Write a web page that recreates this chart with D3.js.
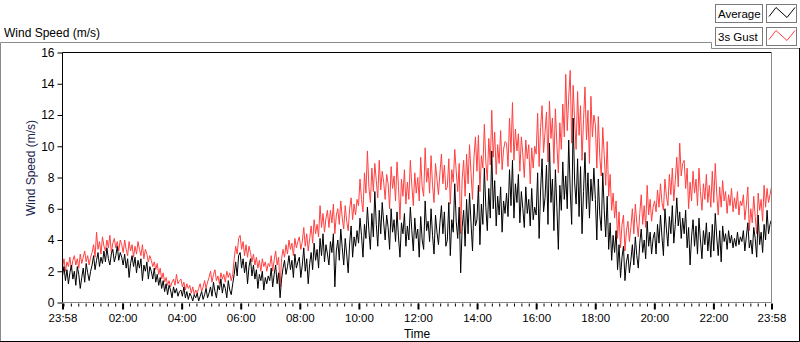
<!DOCTYPE html>
<html>
<head>
<meta charset="utf-8">
<script src="https://cdn.jsdelivr.net/npm/d3@7"></script>
<style>
  body { margin: 0; background: #fff; }
  svg { display: block; font-family: "Liberation Sans", Arial, sans-serif; }
</style>
</head>
<body>
<div class="container"></div>
<script>
// one value every 3 minutes, 20 per hour (one row per hour), from 23:58 to 23:58
const avgSpeed = [
  1.7, 2.3, 1.4, 2.1, 1.2, 1.9, 2.4, 1.5, 2.0, 1.1, 2.3, 1.8, 0.9, 1.6, 2.2, 1.3, 2.5, 1.9, 1.4, 2.0,
  2.4, 3.0, 2.1, 2.7, 3.2, 2.3, 2.9, 2.5, 3.3, 2.6, 3.5, 2.8, 2.4, 3.1, 3.4, 2.6, 3.0, 3.6, 2.7, 3.2,
  2.9, 2.4, 3.1, 2.2, 2.8, 1.6, 2.5, 3.0, 2.3, 2.9, 1.9, 2.7, 2.2, 2.8, 1.4, 2.4, 2.0, 2.6, 1.5, 2.3,
  2.0, 1.5, 2.2, 1.3, 1.8, 1.1, 1.6, 0.9, 1.4, 0.7, 1.2, 0.5, 1.1, 0.8, 0.3, 1.0, 0.6, 0.9, 0.4, 0.7,
  0.8, 0.4, 1.0, 0.3, 0.7, 0.2, 0.6, 0.4, 0.1, 0.5, 0.3, 0.6, 0.1, 0.4, 0.7, 0.2, 0.5, 0.9, 0.3, 0.6,
  1.0, 0.4, 1.3, 0.7, 0.3, 1.1, 0.8, 1.5, 0.6, 1.2, 0.9, 0.3, 1.4, 0.8, 0.5, 1.2, 1.8, 2.6, 1.7, 3.0,
  3.2, 2.2, 2.8, 1.9, 2.6, 1.2, 2.3, 2.8, 1.7, 2.4, 1.5, 2.1, 0.9, 1.8, 1.4, 2.0, 0.8, 1.6, 1.2, 1.7,
  1.4, 2.2, 1.0, 1.8, 2.4, 1.2, 1.9, 0.3, 1.5, 2.2, 2.7, 1.8, 2.3, 3.0, 2.1, 2.7, 1.6, 3.1, 2.2, 2.6,
  2.9, 1.6, 2.4, 3.5, 2.0, 2.8, 1.2, 2.5, 3.2, 2.1, 3.8, 2.7, 3.4, 2.2, 4.1, 3.0, 4.4, 2.6, 3.7, 3.1,
  2.4, 3.9, 3.2, 4.4, 1.0, 3.3, 4.0, 2.7, 4.7, 3.5, 2.4, 4.1, 3.1, 1.9, 3.8, 4.9, 2.9, 4.2, 3.6, 4.6,
  3.8, 5.4, 4.3, 2.9, 5.0, 4.1, 6.1, 4.6, 3.4, 5.7, 4.2, 7.1, 5.0, 3.6, 5.9, 4.4, 6.4, 5.1, 4.0, 5.6,
  4.8, 3.4, 6.0, 4.5, 5.3, 3.9, 5.8, 4.2, 2.9, 5.1, 4.4, 5.7, 3.6, 4.9, 4.0, 6.1, 4.6, 3.3, 5.4, 4.1,
  4.7, 2.9, 5.5, 4.0, 3.4, 6.5, 4.6, 5.2, 3.9, 6.0, 4.3, 3.1, 5.6, 4.5, 3.7, 5.1, 6.2, 4.4, 5.8, 3.6,
  4.0, 6.4, 3.0, 5.3, 4.5, 7.6, 5.2, 4.1, 6.1, 1.9, 4.8, 5.9, 3.6, 6.6, 4.4, 7.0, 5.1, 3.3, 6.3, 4.9,
  5.3, 7.5, 3.7, 6.3, 5.0, 8.6, 6.1, 4.6, 7.3, 5.4, 9.7, 6.0, 7.8, 4.9, 6.8, 5.6, 7.4, 4.5, 6.5, 5.7,
  7.0, 5.5, 8.5, 6.2, 9.1, 5.4, 7.6, 6.4, 8.2, 5.1, 7.1, 6.0, 4.8, 7.4, 5.7, 6.6, 4.9, 7.3, 5.3, 6.1,
  5.6, 8.3, 4.1, 7.2, 9.2, 5.8, 6.7, 8.8, 5.0, 10.2, 6.4, 7.9, 4.6, 8.5, 6.1, 3.4, 7.5, 5.9, 9.0, 6.6,
  8.1, 6.0, 10.4, 7.2, 5.0, 11.8, 7.7, 6.3, 9.2, 5.5, 8.7, 4.4, 7.1, 9.6, 6.0, 8.3, 5.4, 7.9, 6.5, 8.6,
  6.6, 4.0, 7.9, 5.6, 4.6, 8.3, 5.9, 4.2, 6.8, 3.4, 5.1, 2.7, 4.3, 3.2, 4.6, 2.1, 3.7, 1.6, 2.9, 3.6,
  1.4, 2.6, 3.1, 1.9, 2.7, 3.7, 2.4, 4.2, 3.0, 2.2, 3.8, 4.7, 3.2, 4.0, 2.8, 5.2, 3.6, 4.5, 3.1, 4.1,
  4.5, 3.1, 5.0, 3.8, 5.6, 4.2, 3.0, 6.0, 4.7, 3.6, 5.5, 4.4, 6.2, 3.8, 5.0, 6.7, 4.9, 5.8, 4.1, 5.4,
  4.4, 5.9, 3.5, 4.8, 2.4, 4.2, 5.3, 3.6, 4.9, 3.1, 5.4, 4.0, 2.8, 4.6, 3.7, 5.1, 3.3, 4.5, 2.9, 5.0,
  3.3, 5.7, 4.2, 3.0, 4.6, 2.6, 4.9, 3.9, 4.4, 3.4, 4.6, 3.8, 4.3, 3.5, 4.1, 3.6, 4.5, 3.7, 4.2, 3.9,
  4.6, 3.3, 4.2, 5.1, 3.5, 4.0, 3.1, 4.8, 4.1, 2.9, 5.6, 3.7, 4.5, 3.2, 5.0, 4.0, 5.9, 4.4, 5.0, 5.3
]
const gustSpeed = [
  2.2, 2.8, 2.0, 2.6, 2.3, 2.9, 2.1, 2.7, 3.0, 2.4, 2.8, 2.2, 3.1, 2.5, 2.9, 3.3, 2.6, 3.0, 2.4, 2.9,
  3.2, 3.7, 2.9, 4.5, 3.4, 3.9, 3.1, 4.2, 3.6, 3.3, 4.0, 3.5, 4.3, 3.2, 3.8, 4.1, 3.5, 3.9, 3.3, 4.0,
  3.7, 3.2, 4.0, 3.4, 3.0, 3.9, 3.3, 3.7, 2.9, 3.6, 3.1, 3.9, 3.4, 3.0, 3.7, 2.8, 3.4, 3.1, 2.6, 3.0,
  2.7, 2.3, 2.6, 2.1, 2.5, 1.8, 2.2, 1.5, 1.9, 1.3, 1.6, 1.1, 1.4, 1.0, 1.3, 1.5, 1.1, 1.8, 1.2, 1.4,
  1.5, 1.0, 1.3, 0.8, 1.2, 0.9, 1.1, 0.6, 1.0, 0.5, 0.8, 0.6, 0.9, 1.2, 0.7, 1.0, 1.4, 0.9, 1.3, 1.6,
  2.0, 1.3, 1.8, 2.1, 1.4, 1.7, 1.2, 1.9, 1.5, 1.8, 1.3, 2.0, 1.6, 1.9, 1.4, 1.8, 2.8, 3.6, 3.1, 4.1,
  4.3, 3.4, 3.9, 3.0, 3.7, 2.9, 3.6, 3.2, 2.6, 3.1, 2.4, 2.9, 2.2, 2.7, 2.0, 2.8, 2.3, 2.6, 2.0, 2.5,
  2.3, 3.0, 2.0, 2.7, 3.3, 2.4, 2.9, 1.0, 2.8, 3.4, 2.9, 3.7, 3.1, 4.0, 3.4, 3.8, 3.0, 4.1, 3.5, 3.9,
  4.2, 3.4, 3.9, 4.8, 3.6, 4.4, 3.3, 4.1, 4.9, 3.8, 5.3, 4.4, 5.0, 4.2, 6.2, 4.8, 5.7, 4.5, 5.4, 5.9,
  4.8, 5.9, 5.1, 6.3, 4.4, 5.6, 6.0, 5.0, 6.5, 5.4, 4.7, 6.2, 5.2, 4.6, 6.0, 6.7, 5.3, 6.3, 5.6, 6.6,
  6.2, 7.9, 6.6, 5.8, 8.3, 7.0, 9.7, 7.4, 6.4, 8.6, 7.1, 8.9, 7.8, 6.7, 9.1, 7.2, 8.4, 7.7, 6.6, 8.2,
  7.6, 6.0, 8.7, 7.3, 8.1, 6.5, 9.0, 7.4, 5.3, 7.9, 6.8, 8.5, 6.3, 7.7, 6.6, 9.1, 7.5, 6.2, 8.3, 7.0,
  8.0, 6.5, 9.3, 7.4, 6.8, 9.9, 7.7, 8.6, 7.0, 9.4, 7.5, 6.4, 8.9, 7.9, 6.9, 8.3, 9.5, 7.6, 8.8, 7.2,
  7.4, 9.2, 6.3, 8.5, 7.7, 9.8, 8.4, 7.1, 8.9, 4.4, 7.9, 9.1, 6.8, 9.5, 7.6, 10.1, 8.3, 6.6, 9.3, 10.6,
  8.4, 10.7, 7.1, 9.4, 8.6, 11.4, 9.0, 7.8, 10.5, 8.8, 12.3, 9.3, 10.9, 8.2, 10.1, 8.9, 11.0, 8.5, 9.8, 10.3,
  10.2, 8.7, 11.8, 9.6, 12.8, 9.1, 11.1, 9.7, 10.8, 8.4, 10.6, 9.5, 8.0, 10.4, 9.2, 10.1, 7.6, 9.9, 8.6, 10.0,
  9.5, 12.1, 8.7, 11.2, 12.6, 9.6, 10.9, 12.2, 9.0, 12.9, 10.5, 11.8, 8.9, 12.4, 10.1, 8.3, 11.5, 9.8, 12.7, 10.6,
  14.6, 11.0, 13.1, 14.85, 10.2, 13.9, 11.6, 9.8, 13.5, 10.7, 12.6, 9.1, 11.7, 13.8, 10.4, 12.3, 8.9, 13.2, 10.6, 12.0,
  11.4, 8.6, 11.9, 9.3, 8.1, 11.2, 9.4, 7.5, 10.3, 6.8, 8.2, 5.9, 7.0, 5.4, 6.5, 4.1, 5.8, 3.5, 5.0, 5.6,
  3.3, 4.6, 5.2, 3.9, 4.8, 6.0, 4.4, 6.3, 5.1, 4.2, 5.7, 6.9, 5.0, 6.2, 4.8, 7.5, 5.6, 6.6, 5.2, 6.1,
  6.5, 5.8, 7.2, 6.1, 7.6, 6.4, 5.9, 7.9, 6.8, 6.2, 8.2, 6.9, 8.6, 6.5, 7.8, 9.3, 7.4, 10.2, 8.1, 8.9,
  9.1, 7.3, 8.6, 6.0, 7.7, 6.5, 8.4, 7.0, 7.9, 6.2, 8.6, 7.1, 5.9, 7.6, 6.6, 8.2, 6.4, 7.5, 6.1, 8.4,
  6.4, 8.9, 7.0, 5.6, 7.4, 6.1, 7.8, 6.5, 7.1, 5.7, 6.9, 6.2, 7.3, 5.8, 6.7, 6.0, 7.1, 5.6, 6.5, 6.2,
  6.9, 5.3, 6.2, 7.4, 4.6, 6.0, 5.1, 6.8, 5.5, 4.4, 7.0, 5.9, 6.6, 5.2, 7.5, 6.1, 7.3, 6.4, 6.9, 7.4
]
const seriesNames = ["Average", "3s Gust"]
const seriesColors = ["#000000", "#ff4040"]
const yTicks = [0, 2, 4, 6, 8, 10, 12, 14, 16]
const xTickLabels = ["23:58", "02:00", "04:00", "06:00", "08:00", "10:00", "12:00",
  "14:00", "16:00", "18:00", "20:00", "22:00", "23:58"]

const w = 800
const h = 342
const pLeft = 62.5, pRight = 771.5, pTop = 52.5, pBottom = 302.5

const parseTime = d3.timeParse("%H:%M")
const tickTimes = xTickLabels.map((s, i) => i === 0 ? d3.timeDay.offset(parseTime(s), -1) : parseTime(s))
const tStart = tickTimes[0]
const tEnd = tickTimes[tickTimes.length - 1]

const xScale = d3.scaleTime().domain([tStart, tEnd]).range([pLeft, pRight])
const yScale = d3.scaleLinear().domain([0, 16]).range([pBottom, pTop])

const svg = d3.select(".container")
  .append("svg")
  .attr("width", w)
  .attr("height", h)

// outer panel frame with the notch for the legend
svg.append("path")
  .attr("d", "M0.5,342 V42.5 H711.5 V48.5 H799")
  .attr("fill", "none").attr("stroke", "#8a8a8a")
svg.append("path")
  .attr("d", "M0,341.5 H799.5 V48")
  .attr("fill", "none").attr("stroke", "#000")

svg.append("text")
  .attr("x", 4).attr("y", 37)
  .style("font-size", "12px")
  .attr("fill", "#000")
  .text("Wind Speed (m/s)")

// legend
seriesNames.forEach((name, i) => {
  const y0 = 4.5 + i * 23
  const g = svg.append("g")
  g.append("rect").attr("x", 715.5).attr("y", y0).attr("width", 47).attr("height", 18)
    .attr("fill", "#fff").attr("stroke", "#7a7a7a")
  g.append("text").attr("x", 718).attr("y", y0 + 13.5)
    .style("font-size", "11.5px").attr("fill", "#000").text(name)
  g.append("rect").attr("x", 766.5).attr("y", y0).attr("width", 30).attr("height", 18)
    .attr("fill", "#fff").attr("stroke", "#7a7a7a")
  g.append("path")
    .attr("d", `M769,${y0 + 12} L776,${y0 + 3} L787,${y0 + 13} L795,${y0 + 3}`)
    .attr("fill", "none").attr("stroke", seriesColors[i]).attr("stroke-width", 1)
})

// plot area
svg.append("clipPath").attr("id", "clip")
  .append("rect").attr("x", pLeft).attr("y", pTop).attr("width", pRight - pLeft).attr("height", pBottom - pTop)

const makeLine = (values) => {
  const idxToTime = d3.scaleLinear().domain([0, values.length - 1]).range([tStart, tEnd])
  return d3.line()
    .x((d, i) => xScale(idxToTime(i)))
    .y((d) => yScale(d))(values)
}

const plot = svg.append("g").attr("clip-path", "url(#clip)")
plot.append("path")
  .attr("d", makeLine(gustSpeed)).attr("fill", "none").attr("stroke", seriesColors[1]).attr("stroke-width", 1)
plot.append("path")
  .attr("d", makeLine(avgSpeed)).attr("fill", "none").attr("stroke", seriesColors[0]).attr("stroke-width", 1)

// plot frame: sunken look
svg.append("path").attr("d", `M${pLeft},${pBottom} V${pTop} H${pRight}`)
  .attr("fill", "none").attr("stroke", "#000")
svg.append("path").attr("d", `M${pLeft},${pBottom} H${pRight} V${pTop}`)
  .attr("fill", "none").attr("stroke", "#8a8a8a")

// y axis
const yAxis = d3.axisLeft(yScale).tickValues(yTicks).tickSize(5).tickPadding(3)
const gy = svg.append("g").attr("transform", `translate(${pLeft},0)`).call(yAxis)
gy.select(".domain").remove()
gy.selectAll("line").attr("stroke", "#000")
gy.selectAll("text").style("font-size", "12px").attr("fill", "#000")

// x axis: minor ticks every 15 min, major every 2 h
const minorTimes = d3.timeMinute.every(15).range(tStart, tEnd)
const xMinor = d3.axisBottom(xScale).tickValues(minorTimes).tickSize(3).tickFormat("")
const gxm = svg.append("g").attr("transform", `translate(0,${pBottom + 1})`).call(xMinor)
gxm.select(".domain").remove()
gxm.selectAll("line").attr("stroke", "#000")

const xAxis = d3.axisBottom(xScale).tickValues(tickTimes).tickSize(6).tickPadding(4)
  .tickFormat((d, i) => xTickLabels[i])
const gx = svg.append("g").attr("transform", `translate(0,${pBottom + 1})`).call(xAxis)
gx.select(".domain").remove()
gx.selectAll("line").attr("stroke", "#000").attr("stroke-width", 2)
gx.selectAll("text").style("font-size", "11.5px").attr("fill", "#000")

svg.append("text")
  .attr("x", (pLeft + pRight) / 2).attr("y", 338)
  .style("text-anchor", "middle").style("font-size", "12px").attr("fill", "#000")
  .text("Time")

svg.append("text")
  .attr("transform", "rotate(-90)")
  .attr("x", -168).attr("y", 35)
  .style("text-anchor", "middle").style("font-size", "12px").attr("fill", "#1a2450")
  .text("Wind Speed (m/s)")
</script>
</body>
</html>
